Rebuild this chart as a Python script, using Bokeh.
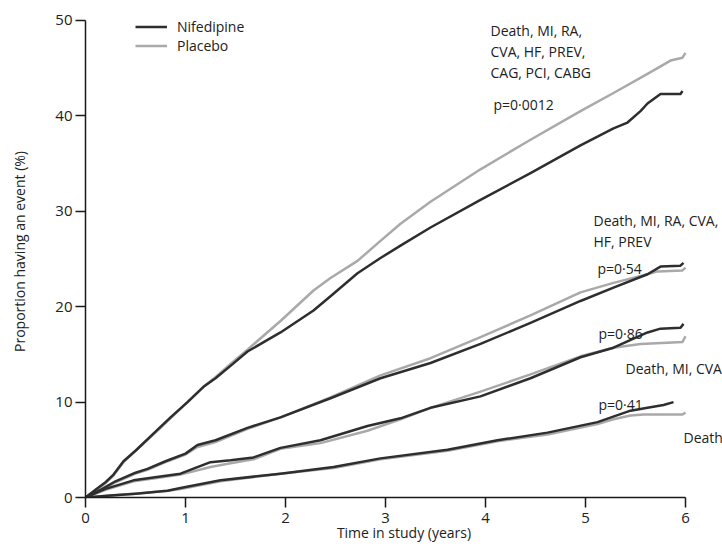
from bokeh.plotting import figure
from bokeh.models import Label, Legend, LegendItem, Range1d, FixedTicker
from bokeh.embed import file_html
from bokeh.resources import INLINE

# ---------------- data ----------------
year_ticks = [0, 1, 2, 3, 4, 5, 6]
pct_ticks = [0, 10, 20, 30, 40, 50]

# Death, MI, RA, CVA, HF, PREV, CAG, PCI, CABG  (p=0.0012)
comp_nif_x = [0, 0.1, 0.2, 0.28, 0.38, 0.5, 0.7, 0.85, 1.02, 1.18, 1.3, 1.45, 1.62, 1.95, 2.28, 2.45,
              2.72, 2.95, 3.15, 3.45, 3.95, 4.45, 4.95, 5.28, 5.42, 5.55, 5.62, 5.75, 5.95, 5.97]
comp_nif_y = [0, 0.8, 1.6, 2.4, 3.8, 4.9, 6.9, 8.4, 10.0, 11.6, 12.5, 13.8, 15.3, 17.3, 19.6, 21.1,
              23.5, 25.1, 26.4, 28.3, 31.2, 34.0, 36.9, 38.7, 39.3, 40.5, 41.3, 42.3, 42.3, 42.6]
comp_plc_x = [0, 0.1, 0.2, 0.28, 0.38, 0.5, 0.7, 0.85, 1.02, 1.18, 1.3, 1.45, 1.62, 1.95, 2.28, 2.45,
              2.72, 2.95, 3.15, 3.45, 3.95, 4.45, 4.95, 5.28, 5.62, 5.85, 5.97, 6.0]
comp_plc_y = [0, 0.7, 1.5, 2.3, 3.7, 4.9, 6.8, 8.3, 10.0, 11.6, 12.6, 14.0, 15.5, 18.5, 21.7, 23.0,
              24.8, 26.9, 28.7, 31.0, 34.4, 37.5, 40.5, 42.4, 44.4, 45.8, 46.1, 46.6]

# Death, MI, RA, CVA, HF, PREV  (p=0.54)
sec_nif_x = [0, 0.15, 0.3, 0.5, 0.62, 0.8, 1.0, 1.12, 1.3, 1.62, 1.95, 2.45, 2.95, 3.45, 3.95, 4.45,
             4.95, 5.28, 5.62, 5.75, 5.95, 5.98]
sec_nif_y = [0, 0.8, 1.7, 2.6, 3.0, 3.8, 4.6, 5.5, 6.0, 7.3, 8.4, 10.4, 12.5, 14.1, 16.1, 18.3,
             20.6, 22.0, 23.4, 24.2, 24.3, 24.6]
sec_plc_x = [0, 0.15, 0.3, 0.5, 0.62, 0.8, 1.0, 1.12, 1.3, 1.62, 1.95, 2.45, 2.95, 3.45, 3.95, 4.45,
             4.95, 5.28, 5.62, 5.72, 5.97, 6.0]
sec_plc_y = [0, 0.7, 1.6, 2.5, 2.9, 3.7, 4.5, 5.3, 5.8, 7.2, 8.4, 10.5, 12.8, 14.6, 16.8, 19.1,
             21.5, 22.5, 23.4, 23.7, 23.8, 24.1]

# Death, MI, CVA  (p=0.86)
dmc_nif_x = [0, 0.2, 0.48, 0.75, 0.95, 1.25, 1.45, 1.68, 1.95, 2.35, 2.82, 3.15, 3.45, 3.95, 4.45,
             4.95, 5.28, 5.62, 5.75, 5.95, 5.98]
dmc_nif_y = [0, 0.9, 1.8, 2.2, 2.5, 3.7, 3.9, 4.2, 5.2, 6.0, 7.5, 8.3, 9.4, 10.6, 12.5,
             14.7, 15.7, 17.3, 17.7, 17.8, 18.2]
dmc_plc_x = [0, 0.2, 0.48, 0.75, 0.95, 1.25, 1.45, 1.68, 1.95, 2.35, 2.82, 3.15, 3.45, 3.95, 4.45,
             4.95, 5.28, 5.55, 5.97, 6.0]
dmc_plc_y = [0, 0.8, 1.7, 2.1, 2.4, 3.2, 3.6, 4.0, 5.1, 5.7, 7.0, 8.2, 9.4, 11.1, 12.9,
             14.8, 15.7, 16.1, 16.3, 16.9]

# Death  (p=0.41)
dth_nif_x = [0, 0.25, 0.5, 0.82, 0.95, 1.35, 1.95, 2.48, 2.95, 3.62, 4.12, 4.62, 5.12, 5.45, 5.62, 5.78, 5.88]
dth_nif_y = [0, 0.2, 0.4, 0.7, 1.0, 1.8, 2.5, 3.2, 4.1, 5.0, 6.0, 6.8, 7.9, 9.1, 9.4, 9.7, 10.0]
dth_plc_x = [0, 0.25, 0.5, 0.82, 0.95, 1.35, 1.95, 2.48, 2.95, 3.62, 4.12, 4.62, 5.12, 5.28, 5.45, 5.58, 5.97, 6.0]
dth_plc_y = [0, 0.2, 0.4, 0.7, 0.9, 1.7, 2.5, 3.1, 4.0, 4.9, 5.9, 6.6, 7.7, 8.2, 8.6, 8.7, 8.7, 8.9]

series_names = ["Nifedipine", "Placebo"]

# text annotations: (text, x in years, y in %)
annotations = [
    ("Death, MI, RA,", 4.05, 48.9),
    ("CVA, HF, PREV,", 4.05, 46.7),
    ("CAG, PCI, CABG", 4.05, 44.5),
    ("p=0\u00b70012", 4.08, 41.2),
    ("Death, MI, RA, CVA,", 5.08, 29.0),
    ("HF, PREV", 5.08, 26.8),
    ("p=0\u00b754", 5.12, 24.0),
    ("p=0\u00b786", 5.13, 17.2),
    ("Death, MI, CVA", 5.4, 13.5),
    ("p=0\u00b741", 5.13, 9.8),
    ("Death", 5.98, 6.3),
]

# ---------------- styles ----------------
FONT = "Open Sans"
NIF_COLOR = "#2e2e2e"
PLC_COLOR = "#a9a9a9"
TXT = "#222222"
LW = 2.5

p = figure(width=722, height=546, output_backend="svg", toolbar_location=None,
           x_range=Range1d(0, 6.37), y_range=Range1d(0, 51.57),
           min_border_left=85, min_border_right=0, min_border_top=5, min_border_bottom=49)
p.outline_line_color = None
p.xgrid.visible = False
p.ygrid.visible = False
p.background_fill_color = "white"
p.border_fill_color = "white"

pairs = [(comp_plc_x, comp_plc_y, comp_nif_x, comp_nif_y),
         (sec_plc_x, sec_plc_y, sec_nif_x, sec_nif_y),
         (dmc_plc_x, dmc_plc_y, dmc_nif_x, dmc_nif_y),
         (dth_plc_x, dth_plc_y, dth_nif_x, dth_nif_y)]
plc_rends, nif_rends = [], []
for px_, py_, nx_, ny_ in pairs:
    plc_rends.append(p.line(px_, py_, line_color=PLC_COLOR, line_width=LW, line_join="round"))
for px_, py_, nx_, ny_ in pairs:
    nif_rends.append(p.line(nx_, ny_, line_color=NIF_COLOR, line_width=LW, line_join="round"))

for ax in (p.xaxis[0], p.yaxis[0]):
    ax.axis_line_color = "#1a1a1a"
    ax.axis_line_width = 1.5
    ax.major_tick_line_color = "#1a1a1a"
    ax.major_tick_line_width = 1.5
    ax.major_tick_out = 10
    ax.major_tick_in = 0
    ax.minor_tick_line_color = None
    ax.major_label_text_font = FONT
    ax.major_label_text_font_size = "15px"
    ax.major_label_text_color = TXT
    ax.axis_label_text_font = FONT
    ax.axis_label_text_font_size = "14px"
    ax.axis_label_text_font_style = "normal"
    ax.axis_label_text_color = TXT

p.xaxis.ticker = FixedTicker(ticks=year_ticks)
p.xaxis.bounds = (0, 6)
p.yaxis.ticker = FixedTicker(ticks=pct_ticks)
p.yaxis.bounds = (0, 50)
p.xaxis.major_label_standoff = 5
p.xaxis.axis_label = "Time in study (years)"
p.xaxis.axis_label_standoff = -3
p.yaxis.major_label_standoff = 3
p.yaxis.axis_label = "Proportion having an event (%)"
p.yaxis.axis_label_standoff = 23

for txt, ax_, ay_ in annotations:
    p.add_layout(Label(x=ax_, y=ay_, text=txt, text_font=FONT, text_font_size="14px",
                       text_color=TXT, text_align="left", text_baseline="middle"))

legend = Legend(items=[LegendItem(label=series_names[0], renderers=[nif_rends[0]]),
                       LegendItem(label=series_names[1], renderers=[plc_rends[0]])],
                location=(50, 442), orientation="vertical",
                glyph_width=32, glyph_height=17, label_height=17, label_standoff=10,
                spacing=0, padding=0, margin=0,
                border_line_alpha=0, background_fill_alpha=0,
                label_text_font=FONT, label_text_font_size="14px", label_text_color=TXT)
p.add_layout(legend)

open("out.html", "w").write(file_html(p, INLINE))
